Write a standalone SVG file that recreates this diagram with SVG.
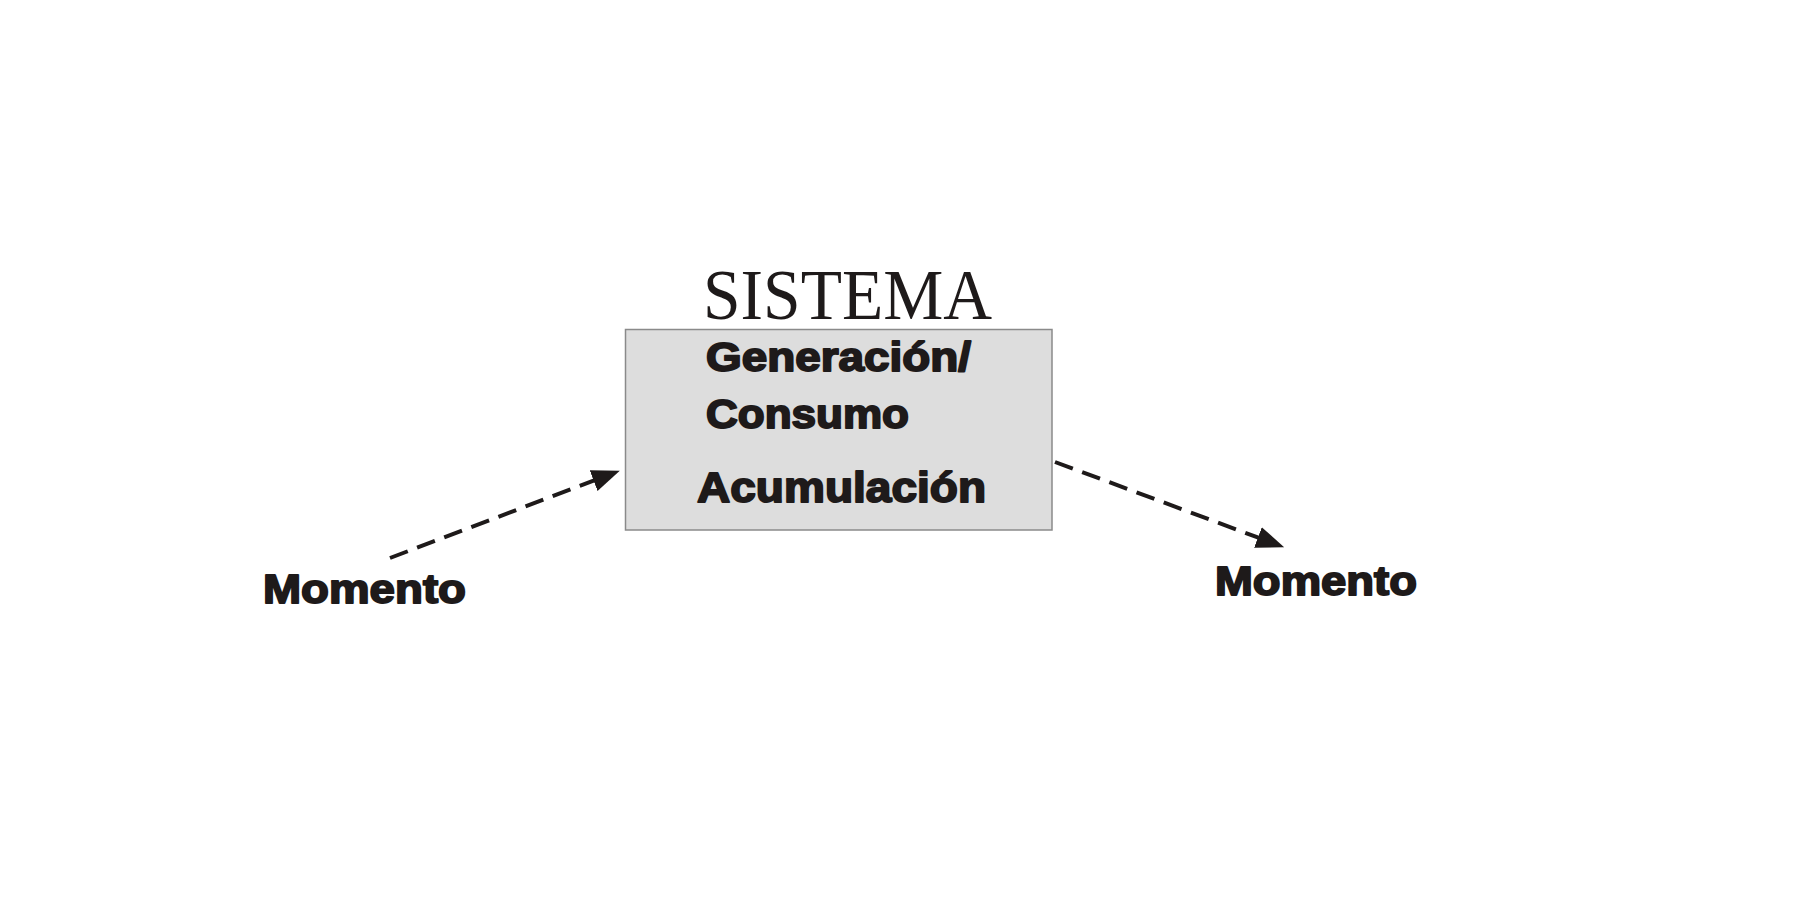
<svg xmlns="http://www.w3.org/2000/svg" width="1800" height="900" viewBox="0 0 1800 900">
<style>
.lbl{font-family:"Liberation Sans",Arial,sans-serif;font-weight:bold;fill:#1e1a1a;stroke:#1e1a1a;stroke-width:1.9;stroke-linejoin:round}
.title{font-family:"Liberation Serif","Times New Roman",serif;fill:#1e1a1a}
.conn{stroke:#1e1a1a;stroke-width:4;fill:none;stroke-dasharray:19 10}
</style>
<defs>
<marker id="ah" markerUnits="userSpaceOnUse" markerWidth="30" markerHeight="24" refX="2" refY="11" orient="auto">
<path d="M0,0 L28,11 L0,22 z" fill="#1e1a1a"/>
</marker>
</defs>
<rect width="1800" height="900" fill="#ffffff"/>
<g id="sistema">
<text class="title" x="703" y="319" font-size="72" textLength="289" lengthAdjust="spacingAndGlyphs">SISTEMA</text>
<rect x="625.5" y="329.5" width="426.5" height="200.5" fill="#dddddd" stroke="#8a8a8a" stroke-width="1.5"/>
<text class="lbl" x="706" y="371" font-size="40" textLength="265" lengthAdjust="spacingAndGlyphs">Generación/</text>
<text class="lbl" x="706" y="428" font-size="40" textLength="203" lengthAdjust="spacingAndGlyphs">Consumo</text>
<text class="lbl" x="697" y="502" font-size="42" textLength="289" lengthAdjust="spacingAndGlyphs">Acumulación</text>
</g>
<g id="momento-in">
<text class="lbl" x="263" y="603" font-size="41" textLength="203" lengthAdjust="spacingAndGlyphs">Momento</text>
</g>
<g id="momento-out">
<text class="lbl" x="1215" y="595" font-size="41" textLength="202" lengthAdjust="spacingAndGlyphs">Momento</text>
</g>
<g id="connectors">
<line class="conn" x1="390" y1="558" x2="595.5" y2="479.9" marker-end="url(#ah)"/>
<line class="conn" x1="1055" y1="462" x2="1259.8" y2="538.2" marker-end="url(#ah)"/>
</g>
</svg>
